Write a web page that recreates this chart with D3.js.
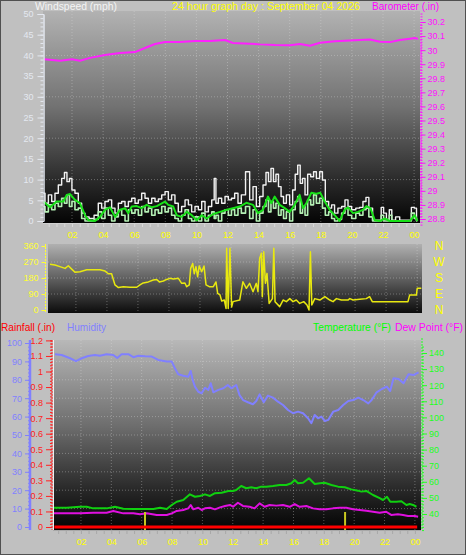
<!DOCTYPE html>
<html><head><meta charset="utf-8">
<script src="https://cdn.jsdelivr.net/npm/d3@7"></script>
<style>body{margin:0;background:#c0c0c0;}svg{display:block;}text{font-family:"Liberation Sans",Arial,sans-serif;}</style>
</head><body><svg id="c" width="466" height="555"></svg>
<script>
// ---------- DATA ----------
const xTickHours=[2,4,6,8,10,12,14,16,18,20,22,24];
const baroHours=[0.2,1.23,2.0,2.51,3.16,4.12,5.09,6.05,6.69,7.34,7.98,8.94,9.91,10.87,11.84,12.35,13.45,14.09,15.05,16.02,16.66,17.3,17.95,18.91,19.88,21.16,21.81,22.45,23.09,23.73,24.05,24.25];
const baro=[29.935,29.925,29.935,29.925,29.945,29.966,29.98,29.986,30.015,30.044,30.058,30.058,30.065,30.065,30.072,30.051,30.046,30.041,30.036,30.034,30.043,30.031,30.052,30.064,30.069,30.076,30.059,30.057,30.072,30.081,30.086,30.08];
const gustHours=[0.16,0.37,0.59,0.8,1.01,1.23,1.44,1.59,1.76,1.91,2.08,2.3,2.51,2.73,2.94,3.26,3.58,3.8,4.01,4.23,4.44,4.66,4.87,5.09,5.3,5.52,5.73,5.95,6.16,6.37,6.59,6.8,7.02,7.23,7.45,7.66,7.88,8.09,8.3,8.51,8.73,8.94,9.16,9.38,9.59,9.8,10.02,10.23,10.45,10.66,10.88,11.09,11.2,11.31,11.52,11.73,11.95,12.16,12.35,12.57,12.78,13.0,13.32,13.53,13.75,13.96,14.18,14.39,14.56,14.71,14.88,15.03,15.2,15.36,15.53,15.68,15.89,16.1,16.28,16.43,16.6,16.75,16.9,17.07,17.24,17.46,17.61,17.82,18.03,18.18,18.4,18.61,18.78,18.99,19.21,19.47,19.64,19.86,20.11,20.39,20.6,20.82,20.99,21.19,21.47,21.8,21.97,22.11,22.33,22.48,22.65,22.97,23.18,23.72,23.93,24.1,24.21];
const gust=[6.7,4.3,6.3,4.7,6.7,8.7,10.3,11.7,9.5,10.3,7.5,6.7,4.3,1.9,1.0,0.6,1.4,4.3,3.1,4.7,5.1,3.1,1.9,4.3,4.7,3.5,4.7,5.5,4.3,5.1,6.7,5.5,4.3,5.5,4.7,5.3,6.3,7.1,5.1,6.3,4.3,2.2,3.5,5.1,3.9,2.2,3.5,2.7,4.7,2.2,3.5,5.1,10.3,4.3,5.5,4.3,5.9,5.1,5.5,6.7,4.3,6.3,11.9,5.1,8.3,3.5,5.9,8.7,11.7,9.5,12.7,9.5,11.3,8.3,5.9,4.3,6.3,3.9,7.5,11.3,13.5,9.1,10.3,6.3,11.3,10.7,11.9,10.3,11.9,9.9,4.7,3.1,3.9,1.9,3.1,3.5,5.1,3.5,2.7,3.1,3.3,4.7,5.7,3.1,0.2,0.2,3.3,1.9,0.4,2.7,0.2,1.0,0.2,0.2,3.3,3.1,0.2];
const wind=[3.5,2.2,3.9,2.7,4.3,3.5,5.5,4.3,6.3,3.5,4.7,2.7,3.1,0.6,0,0,0.4,2.2,0.6,3.1,1.4,0,1.0,2.7,1.4,0,2.7,1.9,2.7,1.4,3.5,2.2,3.1,1.4,2.7,1.9,3.5,2.2,3.1,1.4,0.6,0,1.4,2.7,0.6,0,1.0,0,1.9,0,1.4,2.2,0.6,1.4,0,1.9,2.7,1.4,2.7,1.4,3.1,1.9,3.5,0.6,2.7,0,1.9,3.5,5.1,2.2,4.7,3.1,4.3,1.4,2.7,0.6,2.2,0,2.7,4.7,5.9,1.9,3.5,1.4,5.1,3.9,6.3,4.3,5.5,3.1,1.4,2.2,0.6,0,0.4,1.9,3.1,1.4,0.6,1.9,1.4,2.7,3.1,1.0,0,0,1.4,0,0,1.4,0,0,0,0,1.9,0.6,0];
const avgHours=[0.16,0.59,1.01,1.44,1.66,1.87,2.19,2.51,2.84,3.05,3.48,3.8,4.12,4.44,4.77,5.09,5.41,5.62,5.84,6.16,6.48,6.8,7.13,7.45,7.98,8.19,8.51,8.73,9.05,9.38,9.7,10.02,10.34,10.66,11.09,11.52,11.95,12.35,12.78,13.21,13.64,13.96,14.28,14.6,14.82,15.03,15.36,15.68,16.0,16.32,16.64,16.86,17.07,17.39,17.71,17.97,18.25,18.57,18.89,19.21,19.53,19.75,20.07,20.39,20.71,20.93,21.19,21.47,21.8,22.11,22.43,23.72,24.04,24.21];
const avgWind=[4.7,3.3,4.7,4.7,6.3,6.5,5.1,4.3,1.4,0.2,0,1.0,2.7,3.3,1.0,2.7,3.1,1.9,3.5,3.6,3.1,3.9,3.3,3.6,4.7,3.9,3.5,1.4,1.0,2.2,1.4,0.2,1.4,0.6,1.7,2.2,2.7,3.1,3.5,4.4,3.9,1.9,2.7,5.9,4.3,5.9,3.9,3.1,2.2,3.9,6.3,3.1,4.3,6.8,6.6,6.8,4.7,2.7,1.4,0,2.7,3.3,1.9,2.2,2.7,3.6,3.1,0.2,0,0.6,0,0,1.4,0];
const dirHours=[0.33,0.65,0.97,1.3,1.51,1.73,1.94,2.26,2.7,3.12,3.55,3.88,4.09,4.3,4.52,4.74,5.06,5.49,5.92,6.13,6.34,6.67,6.99,7.21,7.38,7.64,7.85,8.07,8.28,8.61,8.82,9.03,9.14,9.31,9.4,9.53,9.63,9.74,9.85,9.95,10.11,10.26,10.39,10.6,10.86,11.03,11.14,11.29,11.4,11.57,11.68,11.72,11.82,11.93,12.04,12.13,12.56,12.77,12.99,13.2,13.42,13.63,13.74,13.85,13.96,14.02,14.11,14.22,14.32,14.46,14.67,14.76,14.84,15.14,15.36,15.57,15.79,16.0,16.21,16.43,16.69,16.9,17.03,17.12,17.21,17.4,17.73,18.05,18.37,18.58,18.8,19.12,19.54,19.66,19.87,20.3,20.72,20.94,21.11,21.8,22.87,23.41,23.52,23.95,24.01,24.27];
const windDir=[257,253,244,234,249,230,212,215,226,226,226,219,204,204,141,126,131,128,128,141,152,158,169,172,158,163,172,178,174,178,150,152,131,141,234,262,204,244,187,248,215,248,141,131,131,158,94,85,51,56,9,347,9,347,17,47,56,159,122,150,103,150,103,291,319,75,328,150,206,37,64,347,47,19,56,47,64,47,56,37,47,28,0,328,28,64,56,75,56,47,64,56,56,64,56,60,64,75,47,47,47,47,84,84,122,122];
const dirTicks=[0,90,180,270,360];
const compassLabels=["N","E","S","W","N"];
const humHours=[0.29,0.73,1.28,1.67,2.05,2.48,2.92,3.25,3.69,4.13,4.39,4.68,5.12,5.45,5.78,6.22,6.66,7.09,7.65,7.98,8.19,8.41,8.74,9.07,9.23,9.36,9.51,9.73,9.95,10.17,10.39,10.55,10.72,11.05,11.38,11.67,11.91,12.23,12.45,12.68,13.0,13.33,13.55,13.77,14.04,14.32,14.65,14.98,15.31,15.64,15.97,16.3,16.63,16.96,17.18,17.4,17.62,17.84,18.07,18.29,18.62,18.95,19.28,19.61,19.94,20.27,20.6,20.93,21.15,21.48,21.82,22.15,22.37,22.59,22.92,23.25,23.58,23.91,24.24];
const humidity=[93.9,93.5,91.7,90.2,91.7,92.9,93.5,93.1,93.9,93.5,91.8,93.9,93.9,92.3,93.1,92.8,92.6,90.8,89.9,89.9,86.3,83.0,82.2,81.7,84.8,79.9,76.3,73.5,72.7,75.7,74.5,78.1,73.2,74.5,75.4,77.2,75.4,77.2,71.7,69.0,67.8,66.7,68.5,72.1,67.8,71.4,70.3,68.1,66.3,63.6,61.8,62.7,61.8,59.1,56.4,60.9,59.1,60.0,57.6,58.2,62.7,63.6,66.3,68.5,69.0,70.3,69.0,67.2,69.0,73.2,75.0,76.3,73.9,80.8,80.4,78.1,83.0,82.6,84.1];
const tempHours=[0.18,1.06,1.94,2.38,2.81,3.69,4.24,4.79,5.45,6.11,6.77,7.21,7.65,7.98,8.31,8.74,9.18,9.51,9.84,10.17,10.5,10.83,11.27,11.71,12.02,12.23,12.56,12.89,13.22,13.55,13.88,14.21,14.65,15.09,15.53,15.86,16.08,16.3,16.63,17.02,17.4,17.73,18.06,18.5,18.94,19.38,19.81,20.25,20.47,20.8,21.24,21.68,21.9,22.16,22.38,22.78,23.11,23.44,23.66,23.88,24.1];
const temperature=[43.9,43.9,44.5,44.5,43.5,43.5,44.5,43.3,43.1,43.1,43.1,43.9,43.1,45.6,47.6,48.7,52.2,50.7,51.2,52.2,51.2,52.9,53.2,54.3,54.3,54.9,57.4,56.0,56.6,56.0,57.0,57.0,57.4,58.0,58.0,59.1,61.1,59.1,59.4,62.2,58.6,59.1,59.4,58.0,57.0,56.6,55.3,54.5,53.9,54.3,51.8,49.8,48.7,50.7,47.6,47.6,47.9,45.6,46.2,45.6,44.5];
const dewHours=[0.18,1.06,1.94,2.81,3.69,4.13,4.79,5.45,5.89,6.33,6.99,7.65,7.98,8.31,8.74,9.07,9.23,9.4,9.73,9.95,10.17,10.5,10.83,11.16,11.49,11.82,12.02,12.34,12.67,13.11,13.44,13.77,14.1,14.43,14.87,15.31,15.75,16.08,16.41,16.85,17.29,17.73,18.17,18.6,19.04,19.48,19.92,20.36,20.8,21.24,21.68,22.11,22.44,22.88,23.22,23.55,23.99,24.21];
const dewPoint=[40.4,40.4,40.4,40.8,40.8,41.9,40.4,40.4,39.8,40.4,39.4,39.4,40.4,41.9,42.5,43.5,45.6,42.9,43.9,42.5,43.5,43.9,42.9,44.1,45.0,45.6,44.5,47.0,45.0,44.5,43.5,46.6,44.5,45.6,45.2,45.6,44.5,46.2,44.5,45.0,43.5,42.9,42.9,43.5,43.9,43.9,42.9,42.5,42.0,41.4,40.8,41.4,39.4,39.8,39.4,38.8,38.8,38.3];
const rainHours=[0.25,24.15];
const rainfall=[0,0];
const sunEvents=[6.22,19.4];

// ---------- DRAW ----------
const svg=d3.select("#c");
svg.append("rect").attr("width",466).attr("height",555).attr("fill","#c0c0c0");
const defs=svg.append("defs");
function grad(id,stops){const g=defs.append("linearGradient").attr("id",id).attr("x1",0).attr("y1",0).attr("x2",0).attr("y2",1);
  stops.forEach(s=>g.append("stop").attr("offset",s[0]).attr("stop-color",s[1]));}
grad("g1",[[0,"#b2b2b2"],[0.45,"#727272"],[0.8,"#2a2a2a"],[1,"#040404"]]);
grad("g2",[[0,"#b0b0b0"],[0.5,"#606060"],[1,"#0c0c0c"]]);
grad("g3",[[0,"#b8b8b8"],[0.45,"#6e6e6e"],[0.8,"#262626"],[1,"#030303"]]);
function clip(id,x,y,w,h){defs.append("clipPath").attr("id",id).append("rect").attr("x",x).attr("y",y).attr("width",w).attr("height",h);}
clip("c1",43,11,377,212);clip("c2",48,244,374,69);clip("c3",53,340,368,190);

const x1=d3.scaleLinear().domain([0,24]).range([40.9,414.1]);
const x2=d3.scaleLinear().domain([0,24]).range([44.9,417.1]);
const x3=d3.scaleLinear().domain([0,24]).range([50.6,414.9]);
const yWind=d3.scaleLinear().domain([0,50]).range([221,14]);
const yBaro=d3.scaleLinear().domain([28.8,30.2]).range([219,22]);
const yDir=d3.scaleLinear().domain([0,360]).range([310,246]);
const yHum=d3.scaleLinear().domain([0,100]).range([527,343]);
const yRain=d3.scaleLinear().domain([0,1.2]).range([527,340.4]);
const yTemp=d3.scaleLinear().domain([40,140]).range([514,353]);

function line(g,hours,vals,x,y,color,w,curve){
  g.append("path").datum(hours.map((h,i)=>[h,vals[i]]))
   .attr("d",d3.line().x(d=>x(d[0])).y(d=>y(d[1])).curve(curve||d3.curveLinear))
   .attr("fill","none").attr("stroke",color).attr("stroke-width",w).attr("stroke-linejoin","round");
}
function styleAxis(g,color,fs,dash){
  g.select(".domain").attr("stroke",color).attr("stroke-dasharray",dash||null);
  g.selectAll(".tick line").attr("stroke",color);
  g.selectAll("text").attr("fill",color).attr("font-size",fs).attr("font-family","Liberation Sans, Arial, sans-serif");
}
const grid="rgba(225,225,225,0.35)";

// ===== Panel 1: wind + barometer =====
svg.append("rect").attr("x",43).attr("y",11).attr("width",377).attr("height",212).attr("fill","url(#g1)");
const p1=svg.append("g").attr("clip-path","url(#c1)");
p1.selectAll(".vg").data(xTickHours).join("line").attr("x1",d=>x1(d)).attr("x2",d=>x1(d)).attr("y1",11).attr("y2",223)
  .attr("stroke",grid).attr("stroke-dasharray","1,2");
p1.selectAll(".hg").data([10,20,30,40]).join("line").attr("x1",43).attr("x2",420).attr("y1",d=>yWind(d)).attr("y2",d=>yWind(d))
  .attr("stroke",grid).attr("stroke-dasharray","1,2");
line(p1,baroHours,baro,x1,yBaro,"#ff20ff",2);
line(p1,gustHours,gust,x1,yWind,"#f2f2f2",1.4,d3.curveStep);
line(p1,gustHours,wind,x1,yWind,"#b4f0b4",1.6,d3.curveStep);
line(p1,avgHours,avgWind,x1,yWind,"#18e018",2);
svg.append("line").attr("x1",43).attr("x2",420).attr("y1",223.5).attr("y2",223.5).attr("stroke","#d0d0d0");
// left wind axis
let a=svg.append("g").attr("transform","translate(43.5,0)").call(d3.axisLeft(yWind).tickValues(d3.range(0,55,5)).tickSize(6).tickPadding(4));
styleAxis(a,"#e4e8f0",9);
a=svg.append("g").attr("transform","translate(43.5,0)").call(d3.axisLeft(yWind).tickValues(d3.range(0,51,1)).tickSize(3).tickFormat(""));
styleAxis(a,"#e4e8f0",9);
// right baro axis
a=svg.append("g").attr("transform","translate(420.5,0)").call(d3.axisRight(yBaro).tickValues(d3.range(28.8,30.25,0.1)).tickSize(5).tickPadding(2).tickFormat(d3.format(".1f")));
styleAxis(a,"#ff10ff",9,"2,1");
a.selectAll("text").text(d=>{const s=d3.format(".1f")(d);return s.endsWith(".0")?s.slice(0,-2):s;});
a=svg.append("g").attr("transform","translate(420.5,0)").call(d3.axisRight(yBaro).tickValues(d3.range(28.76,30.28,0.02)).tickSize(2).tickFormat(""));
styleAxis(a,"#ff10ff",9);
a.select(".domain").remove();
// x axis panel 1
a=svg.append("g").attr("transform","translate(0,224)").call(d3.axisBottom(x1).tickValues(xTickHours).tickSize(0).tickPadding(8).tickFormat(d=>d3.format("02")(d%24)));
styleAxis(a,"#ffff00",9);a.select(".domain").remove();
a=svg.append("g").attr("transform","translate(0,224)").call(d3.axisBottom(x1).tickValues(d3.range(0.5,24.5,0.5)).tickSize(3).tickFormat(""));
styleAxis(a,"#d8d8d8",9);a.select(".domain").remove();

// ===== Panel 2: wind direction =====
svg.append("rect").attr("x",48).attr("y",244).attr("width",374).attr("height",69).attr("fill","url(#g2)");
const p2=svg.append("g").attr("clip-path","url(#c2)");
p2.selectAll(".vg").data(xTickHours).join("line").attr("x1",d=>x2(d)).attr("x2",d=>x2(d)).attr("y1",244).attr("y2",313)
  .attr("stroke",grid).attr("stroke-dasharray","1,2");
p2.selectAll(".hg").data([90,180,270]).join("line").attr("x1",48).attr("x2",422).attr("y1",d=>yDir(d)).attr("y2",d=>yDir(d))
  .attr("stroke",grid).attr("stroke-dasharray","1,2");
line(p2,dirHours,windDir,x2,yDir,"#e8e810",1.5);
a=svg.append("g").attr("transform","translate(45.5,0)").call(d3.axisLeft(yDir).tickValues(dirTicks).tickSize(4).tickPadding(3));
styleAxis(a,"#ffff30",9,"2,1");
a.select(".domain").attr("d","M0,244V313");
svg.selectAll(".cmp").data(dirTicks).join("text").attr("x",439).attr("y",d=>yDir(d)).attr("dy","0.36em")
  .attr("text-anchor","middle").attr("font-size",12).attr("fill","#ffff00").text((d,i)=>compassLabels[i]);

// ===== Panel 3 =====
svg.append("rect").attr("x",53).attr("y",340).attr("width",368).attr("height",190).attr("fill","url(#g3)");
const p3=svg.append("g").attr("clip-path","url(#c3)");
p3.selectAll(".vg").data(xTickHours).join("line").attr("x1",d=>x3(d)).attr("x2",d=>x3(d)).attr("y1",340).attr("y2",530)
  .attr("stroke",grid).attr("stroke-dasharray","1,2");
p3.selectAll(".hg").data(d3.range(10,100,10)).join("line").attr("x1",53).attr("x2",421).attr("y1",d=>yHum(d)).attr("y2",d=>yHum(d))
  .attr("stroke",grid).attr("stroke-dasharray","1,2");
line(p3,humHours,humidity,x3,yHum,"#8080ff",2);
line(p3,tempHours,temperature,x3,yTemp,"#10d010",2);
line(p3,dewHours,dewPoint,x3,yTemp,"#e010e0",2);
p3.selectAll(".sun").data(sunEvents).join("line").attr("x1",d=>x3(d)).attr("x2",d=>x3(d)).attr("y1",512).attr("y2",530)
  .attr("stroke","#c8c820").attr("stroke-width",2);
line(p3,rainHours,rainfall,x3,yRain,"#ff0000",3);
svg.append("line").attr("x1",53.5).attr("x2",53.5).attr("y1",340).attr("y2",530).attr("stroke","#f0f0f0");
svg.append("line").attr("x1",53).attr("x2",421).attr("y1",530.5).attr("y2",530.5).attr("stroke","#a8a8a8");
// humidity axis
a=svg.append("g").attr("transform","translate(30,0)").call(d3.axisLeft(yHum).tickValues(d3.range(0,101,10)).tickSize(5).tickPadding(3));
styleAxis(a,"#8080ff",9);a.select(".domain").attr("d","M0,340V530").attr("stroke-width",2.5);
a=svg.append("g").attr("transform","translate(30,0)").call(d3.axisLeft(yHum).tickValues(d3.range(0,101,2)).tickSize(2).tickFormat(""));
styleAxis(a,"#8080ff",9);a.select(".domain").remove();
// rain axis
a=svg.append("g").attr("transform","translate(52,0)").call(d3.axisLeft(yRain).tickValues(d3.range(0,1.25,0.1)).tickSize(6).tickPadding(3).tickFormat(d=>{const s=d3.format(".1f")(d);return s==="0.0"?"0":s==="1.0"?"1":s;}));
styleAxis(a,"#ff2020",9,"2,1");a.select(".domain").attr("d","M0,340V530");
a=svg.append("g").attr("transform","translate(52,0)").call(d3.axisLeft(yRain).tickValues(d3.range(0,1.22,0.02)).tickSize(2).tickFormat(""));
styleAxis(a,"#ff2020",9);a.select(".domain").remove();
// temperature axis
a=svg.append("g").attr("transform","translate(422,0)").call(d3.axisRight(yTemp).tickValues(d3.range(40,141,10)).tickSize(5).tickPadding(2));
styleAxis(a,"#20ff20",9,"2,1");a.select(".domain").attr("d","M0,338V530");
a=svg.append("g").attr("transform","translate(422,0)").call(d3.axisRight(yTemp).tickValues(d3.range(30,146,2)).tickSize(2).tickFormat(""));
styleAxis(a,"#20ff20",9);a.select(".domain").remove();
a.selectAll(".tick").filter(d=>yTemp(d)<338||yTemp(d)>531).remove();
// x axis panel 3
a=svg.append("g").attr("transform","translate(0,531)").call(d3.axisBottom(x3).tickValues(xTickHours).tickSize(0).tickPadding(8).tickFormat(d=>d3.format("02")(d%24)));
styleAxis(a,"#ffff00",9);a.select(".domain").remove();
a=svg.append("g").attr("transform","translate(0,531)").call(d3.axisBottom(x3).tickValues(d3.range(0.5,24.5,0.5)).tickSize(3).tickFormat(""));
styleAxis(a,"#a8a8a8",9);a.select(".domain").remove();

// ===== Titles =====
function title(x,y,txt,color,len){svg.append("text").attr("x",x).attr("y",y).attr("font-size",11).attr("fill",color)
  .attr("textLength",len).attr("lengthAdjust","spacingAndGlyphs").text(txt);}
title(35,10,"Windspeed (mph)","#f4f4f4",82);
title(172,10,"24 hour graph day : September 04 2026","#ffff00",188);
title(372,10,"Barometer (.in)","#ff00ff",67);
title(1,331,"Rainfall (.in)","#ff0000",54);
title(67,331,"Humidity","#8080ff",39);
title(313,331,"Temperature (°F)","#00ff00",78);
title(395,331,"Dew Point (°F)","#ff00ff",68);
svg.append("rect").attr("x",0.5).attr("y",0.5).attr("width",465).attr("height",554).attr("fill","none").attr("stroke","#505050");
</script></body></html>
